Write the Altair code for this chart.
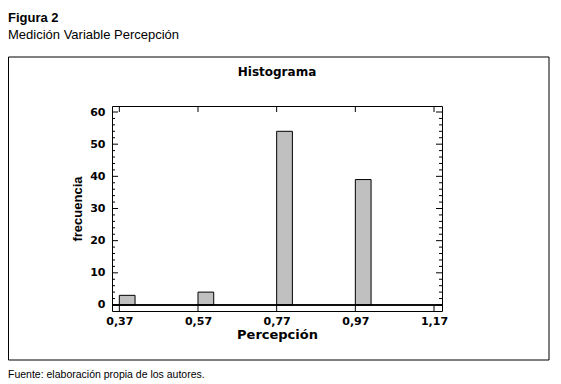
import altair as alt
import pandas as pd

# ---- data ----
bin_start = [0.37, 0.57, 0.77, 0.97]
bin_end = [0.41, 0.61, 0.81, 1.01]
frecuencia = [3, 4, 54, 39]
x_ticks = [0.37, 0.57, 0.77, 0.97, 1.17]
y_major = [0, 10, 20, 30, 40, 50, 60]
y_minor = [v for v in range(0, 61, 2) if v % 10 != 0]

W, H = 330, 205
xscale = alt.Scale(domain=[0.3514, 1.1903], nice=False, zero=False)
yscale = alt.Scale(domain=[-1.87, 61.87], nice=False, zero=False)

WIDE = "DejaVu Sans"
NARROW = "Liberation Sans Narrow, Liberation Sans"

x_axis = alt.Axis(values=x_ticks, ticks=False, domain=False, grid=False,
                  labelExpr="replace(format(datum.value, '.2f'), '.', ',')",
                  labelFont=WIDE, labelFontWeight="bold", labelFontSize=11,
                  labelColor="black", labelPadding=4,
                  title="Percepción", titleFont=WIDE, titleFontWeight="bold",
                  titleFontSize=13, titleColor="black", titlePadding=2)
y_axis = alt.Axis(values=y_major, ticks=False, domain=False, grid=False,
                  labelFont=WIDE, labelFontWeight="bold", labelFontSize=11,
                  labelColor="black", labelPadding=7,
                  title="frecuencia", titleFont=NARROW, titleFontWeight="bold",
                  titleFontSize=13, titleColor="black", titlePadding=5)

bars_df = pd.DataFrame({"start": bin_start, "end": bin_end, "frecuencia": frecuencia})

bars = alt.Chart(bars_df).mark_rect(fill="#c0c0c0", stroke="black", strokeWidth=1).encode(
    x=alt.X("start:Q", scale=xscale, axis=x_axis),
    x2="end:Q",
    y=alt.Y("y0:Q", scale=yscale, axis=y_axis),
    y2="frecuencia:Q",
).transform_calculate(y0="0")

zero_line = alt.Chart(bars_df).mark_rule(color="black", strokeWidth=1).encode(
    y=alt.Y(datum=0, scale=yscale, axis=y_axis)
)

ymaj_df = pd.DataFrame({"v": y_major})
ymin_df = pd.DataFrame({"v": y_minor})
xt_df = pd.DataFrame({"v": x_ticks})

def yticks(df, x0, x1):
    return alt.Chart(df).mark_rule(color="black", strokeWidth=1).encode(
        y=alt.Y("v:Q", scale=yscale, axis=y_axis), x=alt.value(x0), x2=alt.value(x1))

def xticks(y0, y1):
    return alt.Chart(xt_df).mark_rule(color="black", strokeWidth=1).encode(
        x=alt.X("v:Q", scale=xscale, axis=x_axis), y=alt.value(y0), y2=alt.value(y1))

ticks = [
    yticks(ymaj_df, 0, 6), yticks(ymin_df, 0, 3),
    yticks(ymaj_df, W - 6, W), yticks(ymin_df, W - 3, W),
    xticks(H - 6, H), xticks(0, 6),
]

one = pd.DataFrame({"a": [0]})

def label(txt, x, y, size, font, weight="normal", align="left"):
    return alt.Chart(one).mark_text(text=txt, align=align, baseline="alphabetic",
                                    font=font, fontSize=size, fontWeight=weight,
                                    color="black").encode(x=alt.value(x), y=alt.value(y))

frame = alt.Chart(one).mark_rect(fill=None, stroke="black", strokeWidth=1).encode(
    x=alt.value(-103.5), x2=alt.value(437), y=alt.value(-49), y2=alt.value(254))

texts = [
    label("Figura 2", -104, -84, 13, NARROW, "bold"),
    label("Medición Variable Percepción", -104, -67, 13, NARROW),
    label("Histograma", W / 2, -30, 12, WIDE, "bold", "center"),
    label("Fuente: elaboración propia de los autores.", -104, 272, 10.5, NARROW),
]

chart = alt.layer(frame, bars, zero_line, *ticks, *texts).properties(
    width=W, height=H,
    autosize=alt.AutoSizeParams(type="none"),
    padding={"left": 104, "top": 98, "right": 111, "bottom": 73},
).configure_view(stroke="black", strokeWidth=1)

chart.save("out.html", embed_options={"renderer": "svg", "actions": False})
